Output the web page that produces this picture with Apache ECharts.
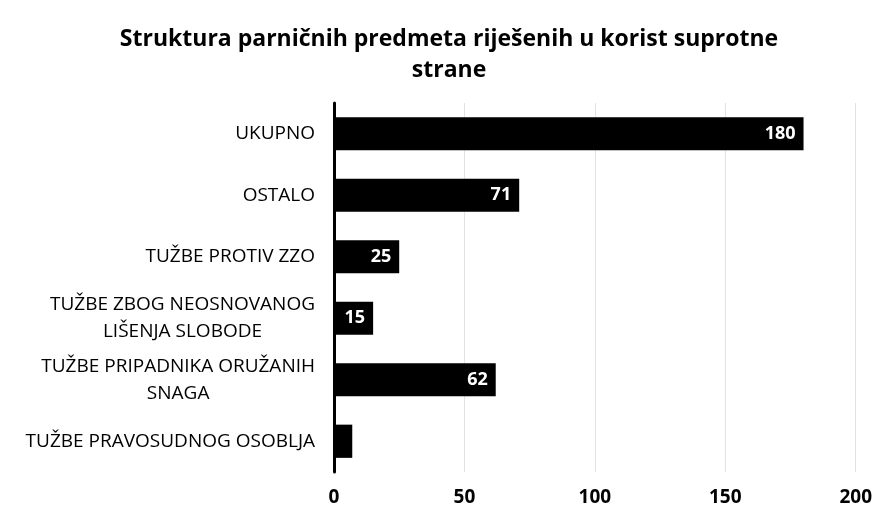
<!DOCTYPE html>
<html>
<head>
<meta charset="utf-8">
<script src="https://cdn.jsdelivr.net/npm/echarts@6/dist/echarts.min.js"></script>
<style>html,body{margin:0;padding:0;background:#fff;}#c{width:875px;height:509px;}</style>
</head>
<body>
<div id="c"></div>
<script>
const categories = [
  'TUŽBE PRAVOSUDNOG OSOBLJA',
  'TUŽBE PRIPADNIKA ORUŽANIH\nSNAGA',
  'TUŽBE ZBOG NEOSNOVANOG\nLIŠENJA SLOBODE',
  'TUŽBE PROTIV ZZO',
  'OSTALO',
  'UKUPNO'
];
const values = [7, 62, 15, 25, 71, 180];
const xTicks = [0, 50, 100, 150, 200];

const FONT = 'Open Sans';
const CAT_SIZE = 19;
const CAT_LH = 27;

const chart = echarts.init(document.getElementById('c'));
chart.setOption({
  animation: false,
  backgroundColor: '#fff',
  title: {
    text: 'Struktura parničnih predmeta riješenih u korist suprotne\nstrane',
    left: 444,
    top: 19,
    textAlign: 'center',
    textStyle: { fontFamily: FONT, fontWeight: 'bold', fontSize: 23, color: '#000', lineHeight: 31 }
  },
  grid: { left: 334, right: 16, top: 103, bottom: 37, containLabel: false },
  xAxis: {
    type: 'value',
    min: xTicks[0],
    max: xTicks[xTicks.length - 1],
    interval: 50,
    axisLine: { show: false },
    axisTick: { show: false },
    splitLine: { show: true, lineStyle: { color: '#e2e2e2', width: 1 } },
    axisLabel: { margin: 16, fontFamily: FONT, fontWeight: 'bold', fontSize: 19, color: '#000' }
  },
  yAxis: {
    type: 'category',
    data: categories,
    axisLine: { show: true, lineStyle: { color: '#000', width: 3 } },
    axisTick: { show: false },
    axisLabel: {
      margin: 19,
      color: '#000',
      fontFamily: FONT,
      fontSize: CAT_SIZE,
      lineHeight: CAT_LH,
      formatter: function (v) {
        return v.split('\n').map(function (s) { return '{c|' + s + '}'; }).join('\n');
      },
      rich: { c: { align: 'center', fontFamily: FONT, fontSize: CAT_SIZE, lineHeight: CAT_LH, color: '#000' } }
    }
  },
  series: [{
    type: 'bar',
    data: values,
    barWidth: '54%',
    itemStyle: { color: '#000' },
    label: {
      show: true,
      position: 'insideRight',
      distance: 8,
      color: '#fff',
      fontFamily: FONT,
      fontWeight: 'bold',
      fontSize: 18,
      formatter: function (p) { return p.value >= 10 ? p.value : ''; }
    }
  }]
});
</script>
</body>
</html>
